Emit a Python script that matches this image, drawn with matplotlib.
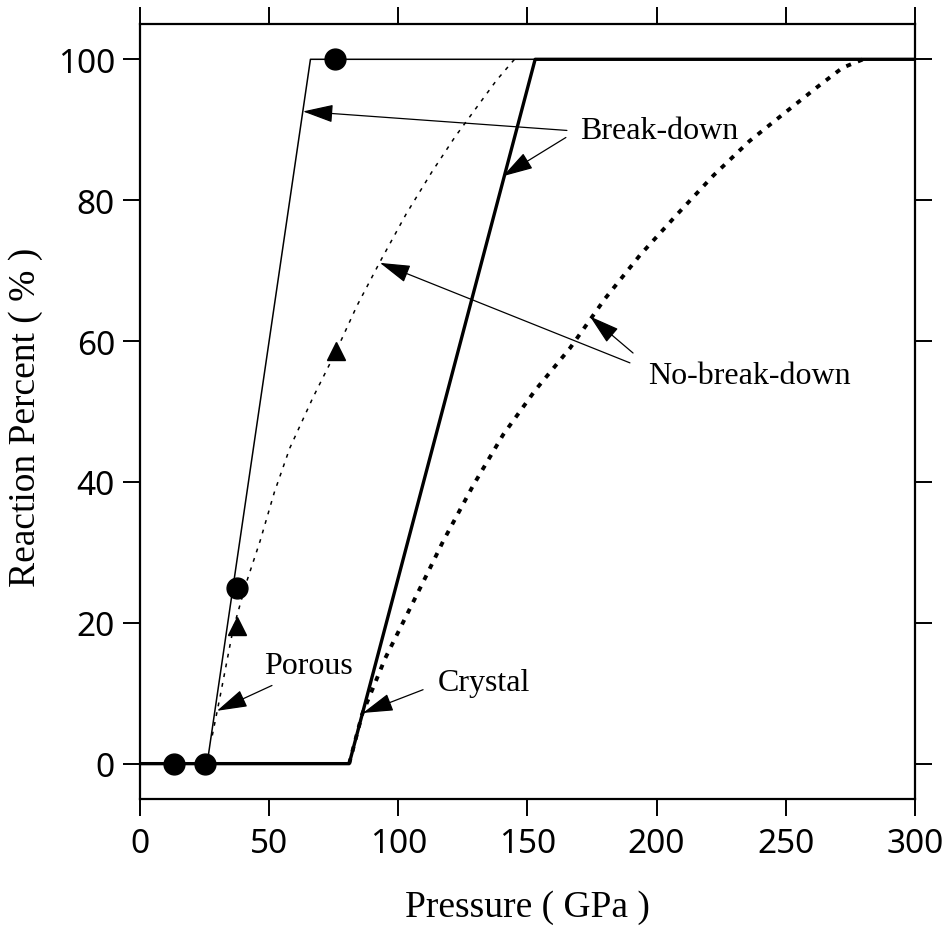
import numpy as np
import matplotlib
matplotlib.use("Agg")
from matplotlib import pyplot as plt

# break-down model: piecewise linear reaction curves
porous_bd_p = [0, 26, 66, 300]
porous_bd_r = [0, 0, 100, 100]
crystal_bd_p = [0, 81, 153, 300]
crystal_bd_r = [0, 0, 100, 100]

# no-break-down model
porous_nbd_p = [28, 31, 36, 41, 46.5, 52, 58, 67, 76, 84, 93, 103, 113, 122, 130, 138, 145]
porous_nbd_r = [4, 9.5, 19, 25.5, 31.6, 38.5, 44.8, 52, 58.6, 65, 71.3, 78, 84, 89, 93, 97, 100]
crystal_nbd_p = [81, 86, 95, 111, 117.4, 129, 140.6, 153, 166.5, 180, 193.6, 208, 222, 236, 250, 262, 272, 280]
crystal_nbd_r = [0, 7, 15, 26.8, 31.6, 39.5, 46.7, 53, 59, 66, 72.2, 78, 83.5, 88.4, 92.5, 96, 98.8, 100]

# measured points
circle_p = [13, 25, 37.5, 75.5]
circle_r = [0, 0, 25, 100]
triangle_p = [37.6, 75.9]
triangle_r = [19.6, 58.6]

xticks = [0, 50, 100, 150, 200, 250, 300]
yticks = [0, 20, 40, 60, 80, 100]

# labels: (text, x, baseline y)
labels = [("Break-down", 201, 88.8), ("No-break-down", 236, 54.0),
          ("Porous", 65.4, 12.9), ("Crystal", 133.2, 10.5)]
# arrows: (tail x, tail y, tip x, tip y)
arrows = [(165.3, 89.9, 63.1, 92.6), (164.9, 88.9, 140.5, 83.4),
          (189.7, 56.9, 92.9, 71.1), (190.9, 58.3, 174.2, 63.5),
          (51.1, 11.1, 29.8, 7.5), (109.6, 10.5, 86.3, 7.2)]

fig = plt.figure(figsize=(9.49, 9.29), dpi=100)
ax = fig.add_axes([0.1475, 0.139, 0.8165, 0.834])

ax.plot(porous_bd_p, porous_bd_r, color="k", lw=1.1)
ax.plot(crystal_bd_p, crystal_bd_r, color="k", lw=2.4)
ax.plot(porous_nbd_p, porous_nbd_r, color="k", lw=1.1, linestyle=(0, (2.5, 4)))
ax.plot(crystal_nbd_p, crystal_nbd_r, color="k", lw=2.8, linestyle=(0, (1.3, 1.9)))
ax.plot(circle_p, circle_r, "o", color="k", ms=15, clip_on=False)
ax.plot(triangle_p, triangle_r, "^", color="k", ms=13)

for txt, x, y in labels:
    ax.text(x, y, txt, ha="center", va="baseline", fontsize=23, family="Liberation Serif")

for x0, y0, x1, y1 in arrows:
    ax.annotate("", xy=(x1, y1), xytext=(x0, y0),
                arrowprops=dict(arrowstyle="-|>,head_length=0.95,head_width=0.28",
                                color="k", lw=0.9, shrinkA=0, shrinkB=0,
                                mutation_scale=20))

ax.set_xlim(0, 300)
ax.set_ylim(-5, 105)
ax.set_xticks(xticks)
ax.set_yticks(yticks)
for s in ax.spines.values():
    s.set_linewidth(1.6)
ax.tick_params(direction="out", length=12, width=1.4, top=True, right=True,
               labelsize=24, pad=6)
ax.tick_params(axis="x", pad=8)
for lab in ax.get_xticklabels() + ax.get_yticklabels():
    lab.set_family("Noto Sans")

ax.set_xlabel("Pressure ( GPa )", fontsize=27, family="Liberation Serif", va="baseline")
ax.xaxis.set_label_coords(0.5, -0.151)
ax.set_ylabel("Reaction Percent ( % )", fontsize=27, family="Liberation Serif", va="center")
ax.yaxis.set_label_coords(-0.148, 0.494)

fig.savefig("out.png", dpi=100)
